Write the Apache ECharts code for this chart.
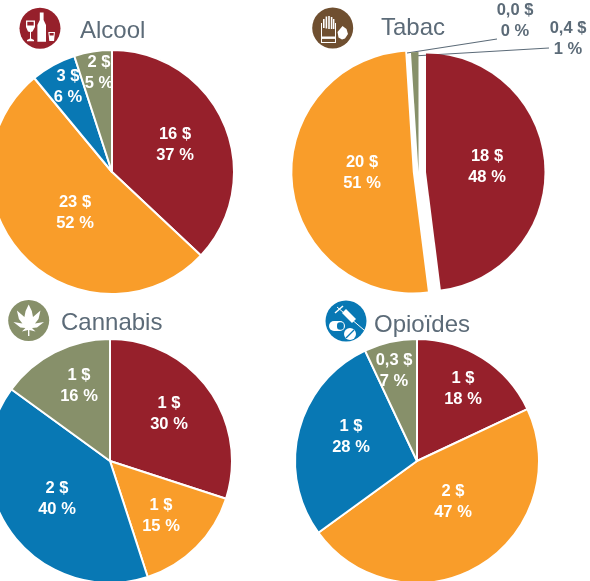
<!DOCTYPE html>
<html>
<head>
<meta charset="utf-8">
<title>Coûts par substance</title>
<script src="https://cdn.jsdelivr.net/npm/echarts@6/dist/echarts.min.js"></script>
<style>
  html, body { margin: 0; padding: 0; background: #fff; }
  #chart { width: 590px; height: 581px; }
</style>
</head>
<body>
<div id="chart"></div>
<script>
const titles = ['Alcool', 'Tabac', 'Cannabis', 'Opioïdes'];

// parts en %, sens horaire depuis midi
const alcoolShare = [37, 52, 6, 5];
const alcoolLabels = ['16 $\n37 %', '23 $\n52 %', '3 $\n6 %', '2 $\n5 %'];
const tabacShare = [48, 51, 0, 1];
const tabacLabels = ['18 $\n48 %', '20 $\n51 %', '', ''];
const tabacOutside = ['0,0 $\n0 %', '0,4 $\n1 %'];
const cannabisShare = [30, 15, 40, 15];
const cannabisLabels = ['1 $\n30 %', '1 $\n15 %', '2 $\n40 %', '1 $\n16 %'];
const opioidesShare = [18, 47, 28, 7];
const opioidesLabels = ['1 $\n18 %', '2 $\n47 %', '1 $\n28 %', '0,3 $\n7 %'];

const RED = '#96202b';
const ORANGE = '#f99d2a';
const BLUE = '#0878b4';
const GREEN = '#87906a';
const BROWN = '#6f4f30';
const GREY = '#5c6b78';
const sliceColors = [RED, ORANGE, BLUE, GREEN];
const labelFont = '"Liberation Sans", sans-serif';

function makePie(center, radius, values, labels, labelPos, only) {
  return {
    type: 'pie',
    center,
    radius,
    startAngle: 90,
    clockwise: true,
    silent: true,
    animation: false,
    avoidLabelOverlap: false,
    labelLine: { show: false },
    label: {
      show: true,
      position: 'inside',
      color: '#fff',
      fontFamily: labelFont,
      fontWeight: 'bold',
      fontSize: 16.5,
      lineHeight: 21,
      formatter: (p) => labels[p.dataIndex]
    },
    labelLayout: (p) => {
      const pos = labelPos[p.dataIndex];
      if (!pos) return {};
      return { x: pos[0], y: pos[1], align: 'center', verticalAlign: 'middle' };
    },
    data: values.map((value, i) => {
      const shown = !only || only.includes(i);
      return {
        value,
        itemStyle: shown
          ? { color: sliceColors[i], borderColor: '#fff', borderWidth: only ? 0 : 2 }
          : { color: 'transparent', borderWidth: 0 },
        label: { show: shown && labels[i] !== '' }
      };
    })
  };
}

function titleAt(text, left, top) {
  return { text, left, top, padding: 0, textStyle: { color: GREY, fontFamily: labelFont, fontWeight: 'normal', fontSize: 24 } };
}

const poly = (points, fill = '#fff') => ({ type: 'polygon', silent: true, shape: { points }, style: { fill } });
const rect = (x, y, width, height, fill = '#fff', r = 0) => ({ type: 'rect', silent: true, shape: { x, y, width, height, r }, style: { fill } });
const disc = (cx, cy, r, fill) => ({ type: 'circle', silent: true, shape: { cx, cy, r }, style: { fill } });
const seg = (x1, y1, x2, y2, stroke = '#fff', lineWidth = 1) => ({ type: 'line', silent: true, shape: { x1, y1, x2, y2 }, style: { stroke, lineWidth } });

const alcoolIcon = [
  disc(40, 28.3, 20.5, RED),
  poly([[39.8, 12.5], [43.6, 12.5], [43.6, 20], [46, 25], [46, 41.7], [37.4, 41.7], [37.4, 25], [39.8, 20]]),
  poly([[26, 20.5], [35, 20.5], [35, 27], [32.5, 31.5], [31, 32], [31, 38.5], [34, 40], [34, 41.3], [27, 41.3], [27, 40], [30, 38.5], [30, 32], [28, 31.5], [26, 27]]),
  poly([[27.3, 21.8], [33.7, 21.8], [33.7, 25.5], [27.3, 25.5]], RED),
  poly([[48.3, 32], [55, 32], [54, 41], [49.3, 41]]),
  poly([[49.5, 33], [53.8, 33], [53.6, 35.5], [49.7, 35.5]], RED)
];

const tabacIcon = [
  disc(332.7, 28, 20.5, BROWN),
  rect(323, 19, 1.6, 9), rect(325.6, 16.5, 1.6, 12), rect(328.2, 16, 1.6, 13), rect(330.8, 17, 1.6, 12), rect(333, 19, 1.4, 10),
  rect(321, 23, 1, 20), rect(335, 23, 1, 20), rect(321, 42, 15, 1),
  rect(321, 36.5, 15, 2.4),
  poly([[342.5, 26], [346.5, 29], [348, 34], [345, 38.5], [342, 39.5], [338.5, 37.5], [337.5, 32]])
];

const cannabisIcon = [
  disc(28.7, 320.5, 20.5, GREEN),
  poly([
    [28.7, 304.5], [31.8, 311], [33, 317], [40.5, 310.5], [38.5, 319], [35, 323.5], [44, 322],
    [37, 327.5], [32, 328], [35.5, 331.5], [29.4, 330], [29.4, 336], [28, 336], [28, 330],
    [21.9, 331.5], [25.4, 328], [20.4, 327.5], [13.4, 322], [22.4, 323.5], [18.9, 319], [16.9, 310.5], [24.4, 317], [25.6, 311]
  ])
];

const opioidesIcon = [
  disc(346, 321, 20.5, BLUE),
  seg(337, 307, 364, 330, '#fff', 1),
  poly([[342, 313], [346, 309], [356, 319], [352, 323]]),
  seg(335, 313, 343, 306, '#fff', 1.5),
  rect(329, 321, 16, 10, '#fff', 5),
  rect(337, 322.2, 6.8, 7.6, BLUE, 3),
  disc(350, 334, 6, '#fff'),
  seg(346, 338, 354, 330, BLUE, 1.3)
];

const chart = echarts.init(document.getElementById('chart'), null, { renderer: 'canvas' });

chart.setOption({
  backgroundColor: '#fff',
  title: [
    titleAt(titles[0], 80, 19),
    titleAt(titles[1], 381, 16),
    titleAt(titles[2], 61, 311),
    titleAt(titles[3], 374, 313)
  ],
  series: [
    makePie([112, 172], 122, alcoolShare, alcoolLabels, [[175, 145], [75, 213], [68, 87], [99, 73]]),
    // tabac : orange et vert sont decales vers la gauche, d'ou trois disques
    makePie([426, 172], 118.5, tabacShare, tabacLabels, [[487, 167]], [0]),
    makePie([412.8, 172], 120.5, tabacShare, tabacLabels, [null, [362, 173]], [1]),
    makePie([418.5, 172], 120, tabacShare, tabacLabels, [], [3]),
    makePie([110, 461], 122, cannabisShare, cannabisLabels, [[169, 414], [161, 516], [57, 499], [79, 386]]),
    makePie([417, 461], 122, opioidesShare, opioidesLabels, [[463, 389], [453, 502], [351, 437], [394, 371]])
  ],
  graphic: [
    ...alcoolIcon, ...tabacIcon, ...cannabisIcon, ...opioidesIcon,
    seg(497, 39, 407, 53, GREY, 1.2),
    seg(549, 48, 413, 56, GREY, 1.2),
    { type: 'text', silent: true, style: { text: tabacOutside[0], x: 515, y: 21, align: 'center', verticalAlign: 'middle', fill: GREY, font: 'bold 16.5px ' + labelFont, lineHeight: 21 } },
    { type: 'text', silent: true, style: { text: tabacOutside[1], x: 568, y: 39, align: 'center', verticalAlign: 'middle', fill: GREY, font: 'bold 16.5px ' + labelFont, lineHeight: 21 } }
  ]
});
</script>
</body>
</html>
